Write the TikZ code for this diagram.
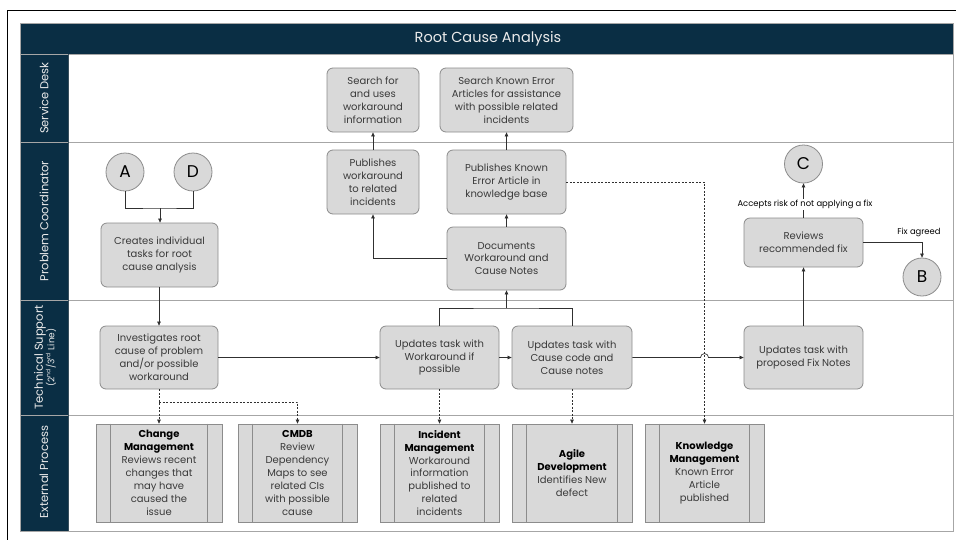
\documentclass[tikz,border=0pt]{standalone}
\usepackage{fontspec}
\setmainfont{Poppins}
\usetikzlibrary{arrows.meta,calc}
\definecolor{navy}{HTML}{0A2E44}
\definecolor{boxfill}{HTML}{D9D9D9}
\definecolor{boxline}{HTML}{8C8C8C}
\definecolor{lanegray}{HTML}{A6A6A6}
\definecolor{txt}{HTML}{3A3A3A}
\definecolor{wire}{HTML}{303030}
\begin{document}
\begin{tikzpicture}[x=1pt,y=-1pt,
  task/.style={draw=boxline, fill=boxfill, rounded corners=6pt, line width=0.8pt,
    align=center, text=txt, inner sep=0pt, font=\fontsize{10}{12.9}\selectfont},
  extproc/.style={draw=boxline, fill=boxfill, line width=0.8pt, align=center,
    text=txt, inner sep=0pt, minimum height=98pt, font=\fontsize{10}{12.9}\selectfont},
  connector/.style={circle, draw=boxline, fill=boxfill, line width=0.8pt,
    minimum size=38pt, inner sep=0pt, text=black, font=\fontsize{17}{17}\selectfont},
  lanelabel/.style={rotate=90, text=white!92!black, align=center,
    font=\fontsize{11.5}{12.5}\selectfont},
  note/.style={font=\fontsize{8.4}{9}\selectfont, text=black, inner sep=1pt},
  flow/.style={draw=wire, line width=0.7pt, -{Triangle[length=4pt,width=3.6pt]}},
  plain/.style={draw=wire, line width=0.7pt},
  dflow/.style={draw=wire, line width=0.7pt, dash pattern=on 2pt off 1.5pt,
    -{Triangle[length=4pt,width=3.6pt]}},
  dplain/.style={draw=wire, line width=0.7pt, dash pattern=on 2pt off 1.5pt}
]
\useasboundingbox (0,0) rectangle (956,539);
\fill[white] (0,0) rectangle (956,539);

% outer frame
\draw[black, line width=0.9pt] (7,10) rectangle (970,560);

% swimlane frame
\fill[navy] (20,23) rectangle (953,54);
\fill[navy] (20,54) rectangle (68,531);
\draw[lanegray, line width=0.8pt] (20,23) rectangle (953,531);
\draw[lanegray, line width=0.8pt] (20,54) -- (953,54);
\foreach \yy in {142,300,415}
  \draw[lanegray, line width=0.8pt] (20,\yy) -- (953,\yy);
\draw[navy!60!gray, line width=0.6pt] (68,54) -- (68,531);

\node[text=white!92!black, font=\fontsize{14.5}{16}\selectfont] (title) at (488,38.5) {Root Cause Analysis};
\node[lanelabel] (lsd) at (44,98) {Service Desk};
\node[lanelabel] (lpc) at (44,221) {Problem Coordinator};
\node[lanelabel] (lts) at (45,357.5) {Technical Support\\[-1pt]{\fontsize{9}{10}\selectfont (2\textsuperscript{nd}/3\textsuperscript{rd} Line)}};
\node[lanelabel] (lep) at (44,472) {External Process};

% Service Desk
\node[task, minimum width=92pt, minimum height=64pt] (searchWA) at (373,100)
  {Search for\\and uses\\workaround\\information};
\node[task, minimum width=133pt, minimum height=64pt] (searchKE) at (506.5,100)
  {Search Known Error\\Articles for assistance\\with possible related\\incidents};

% Problem Coordinator
\node[connector] (A) at (125,172) {A};
\node[connector] (D) at (193,172) {D};
\node[task, minimum width=117pt, minimum height=64pt] (create) at (159.5,255)
  {Creates individual\\tasks for root\\cause analysis};
\node[task, minimum width=92pt, minimum height=64pt] (pubWA) at (373,182)
  {Publishes\\workaround\\to related\\incidents};
\node[task, minimum width=119pt, minimum height=64pt] (pubKE) at (506.5,182)
  {Publishes Known\\Error Article in\\knowledge base};
\node[task, minimum width=119pt, minimum height=63pt] (docs) at (506.5,258.5)
  {Documents\\Workaround and\\Cause Notes};
\node[task, minimum width=119pt, minimum height=49pt] (reviews) at (803.5,242.5)
  {Reviews\\recommended fix};
\node[connector] (C) at (803.5,164) {C};
\node[connector] (B) at (922,277) {B};

% Technical Support
\node[task, minimum width=118pt, minimum height=63pt] (invest) at (159,357.5)
  {Investigates root\\cause of problem\\and/or possible\\workaround};
\node[task, minimum width=119pt, minimum height=63pt] (updWA) at (439.5,357.5)
  {Updates task with\\Workaround if\\possible};
\node[task, minimum width=120pt, minimum height=63pt] (updCause) at (572,357.5)
  {Updates task with\\Cause code and\\Cause notes};
\node[task, minimum width=119pt, minimum height=63pt] (updFix) at (803.5,357.5)
  {Updates task with\\proposed Fix Notes};

% External Process
\node[extproc, minimum width=126pt] (chg) at (159,473)
  {\textbf{\color{black}Change}\\\textbf{\color{black}Management}\\Reviews recent\\changes that\\may have\\caused the\\issue};
\node[extproc, minimum width=119pt] (cmdb) at (297.5,473)
  {\textbf{\color{black}CMDB}\\Review\\Dependency\\Maps to see\\related CIs\\with possible\\cause};
\node[extproc, minimum width=119pt] (inc) at (439.5,473)
  {\textbf{\color{black}Incident}\\\textbf{\color{black}Management}\\Workaround\\information\\published to\\related\\incidents};
\node[extproc, minimum width=120pt] (agile) at (572,473)
  {\textbf{\color{black}Agile}\\\textbf{\color{black}Development}\\Identifies New\\defect};
\node[extproc, minimum width=119pt] (know) at (704.5,473)
  {\textbf{\color{black}Knowledge}\\\textbf{\color{black}Management}\\Known Error\\Article\\published};
\foreach \n in {chg,cmdb,inc,agile,know}{
  \draw[boxline, line width=0.8pt] ($(\n.north west)+(15,0)$) -- ($(\n.south west)+(15,0)$);
  \draw[boxline, line width=0.8pt] ($(\n.north east)+(-15,0)$) -- ($(\n.south east)+(-15,0)$);
}

% solid connectors
\coordinate (adjoin) at (160,208);
\draw[plain] (A.south) |- (adjoin) -| (D.south);
\draw[flow] (adjoin) -- (create.north -| adjoin);
\draw[flow] (create.south -| invest.north) -- (invest.north);
\draw[flow] (invest.east) -- (updWA.west);
\draw[flow] (updWA.east) -- (updCause.west);
\draw[flow] (updCause.east) -- ($(updCause.east -| know.north)+(-4,0)$)
  arc[start angle=180, end angle=0, radius=4pt] -- (updFix.west);
\draw[flow] (updFix.north) -- (reviews.south);
\draw[flow] (reviews.north) -- (C.south);
\node[note, fill=white] (risk) at (805,204.5) {Accepts risk of not applying a fix};
\draw[flow] (reviews.east) -| (B.north);
\node[note] (agreed) at (919,232) {Fix agreed};
\coordinate (tsjoin) at (506.5,308);
\draw[plain] (updWA.north) |- (tsjoin) -| (updCause.north);
\draw[flow] (tsjoin) -- (docs.south);
\draw[flow] (docs.north) -- (pubKE.south);
\draw[flow] (pubKE.north) -- (searchKE.south);
\draw[flow] (pubWA.north) -- (searchWA.south);
\draw[flow] (docs.west) -| (pubWA.south);

% dashed connectors to external processes
\coordinate (ijoin) at (159,402);
\draw[dflow] (invest.south) -- (chg.north);
\draw[dflow] (ijoin) -| (cmdb.north);
\draw[dflow] (updWA.south) -- (inc.north);
\draw[dflow] (updCause.south) -- (agile.north);
\draw[dflow] (pubKE.east) -| (know.north);
\end{tikzpicture}
\end{document}
